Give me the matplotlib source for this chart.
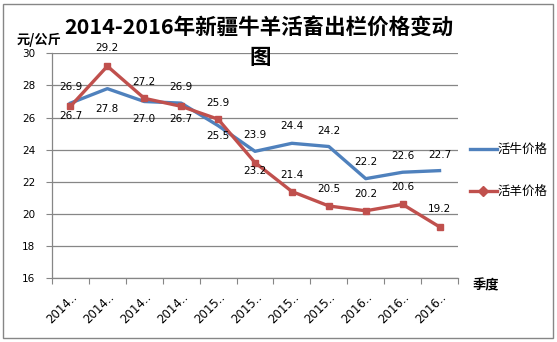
import matplotlib.pyplot as plt
from matplotlib.lines import Line2D
from matplotlib.patches import Rectangle

plt.rcParams['font.family'] = ['DejaVu Sans', 'Noto Sans CJK SC']

quarters = ['2014..', '2014..', '2014..', '2014..', '2015..', '2015..',
            '2015..', '2015..', '2016..', '2016..', '2016..']
cattle = [26.9, 27.8, 27.0, 26.9, 25.5, 23.9, 24.4, 24.2, 22.2, 22.6, 22.7]
sheep = [26.7, 29.2, 27.2, 26.7, 25.9, 23.2, 21.4, 20.5, 20.2, 20.6, 19.2]

# label offsets in pixels (negative = above the point)
cattle_off = [-16, 20, 17, -16, 10, -16, -17, -16, -17, -16, -16]
sheep_off = [10, -18, -16, 13, -16, 8, -17, -17, -17, -17, -18]

blue = '#4F81BD'
red = '#C0504D'
grey = '#868686'

fig = plt.figure(figsize=(5.57, 3.42), dpi=100)
ax = fig.add_axes([52/557, 1-278.3/342, (458-52)/557, (278.3-53.3)/342])

x = range(len(quarters))
ax.plot(x, cattle, color=blue, lw=2.4, solid_joinstyle='round', zorder=3)
ax.plot(x, sheep, color=red, lw=2.4, marker='s', ms=5, zorder=3)

for i in x:
    ax.annotate(f'{cattle[i]:.1f}', (i, cattle[i]), xytext=(0, -cattle_off[i] * 0.72),
                textcoords='offset points', ha='center', va='center', fontsize=7.5)
    ax.annotate(f'{sheep[i]:.1f}', (i, sheep[i]), xytext=(0, -sheep_off[i] * 0.72),
                textcoords='offset points', ha='center', va='center', fontsize=7.5)

ax.set_xlim(-0.5, len(quarters) - 0.5)
ax.set_ylim(16, 30)
ax.set_yticks(range(16, 31, 2))
ax.set_xticks([i - 0.5 for i in range(len(quarters) + 1)], minor=False)
ax.set_xticklabels([])
ax.set_xticks(list(x), minor=True)
ax.set_xticklabels(quarters, minor=True, rotation=45, ha='right',
                   rotation_mode='anchor', fontsize=8.5)
ax.tick_params(axis='x', which='minor', length=0, pad=9)
ax.tick_params(axis='x', which='major', length=4, color=grey)
ax.tick_params(axis='y', length=4, color=grey, labelsize=7.5, pad=8)
ax.grid(axis='y', color=grey, lw=0.9)
ax.set_axisbelow(True)
for s in ['top', 'right']:
    ax.spines[s].set_visible(False)
for s in ['left', 'bottom']:
    ax.spines[s].set_color(grey)
    ax.spines[s].set_linewidth(0.9)

fig.text(259/557, 1-28/342, '2014-2016年新疆牛羊活畜出栏价格变动', ha='center', va='center',
         fontsize=15.5, fontweight='bold', family=['Noto Sans CJK SC'])
fig.text(260/557, 1-58/342, '图', ha='center', va='center',
         fontsize=15.5, fontweight='bold', family=['Noto Sans CJK SC'])
fig.text(17/557, 1-40/342, '元/公斤', ha='left', va='center', fontsize=9.5,
         fontweight='bold', family=['Noto Sans CJK SC'])
fig.text(473/557, 1-285/342, '季度', ha='left', va='center', fontsize=9.5,
         fontweight='bold', family=['Noto Sans CJK SC'])

handles = [Line2D([], [], color=blue, lw=2.4),
           Line2D([], [], color=red, lw=2.4, marker='D', ms=5)]
fig.legend(handles, ['活牛价格', '活羊价格'], loc='center left',
           bbox_to_anchor=(459/557, 1-170.5/342), frameon=False,
           prop={'family': ['Noto Sans CJK SC'], 'size': 9},
           handlelength=2.1, handletextpad=0.1, labelspacing=2.3)

fig.add_artist(Rectangle((3/557, 4/342), 550/557, 334/342, transform=fig.transFigure,
                         fill=False, edgecolor=grey, lw=1))

fig.savefig('out.png', dpi=100)
